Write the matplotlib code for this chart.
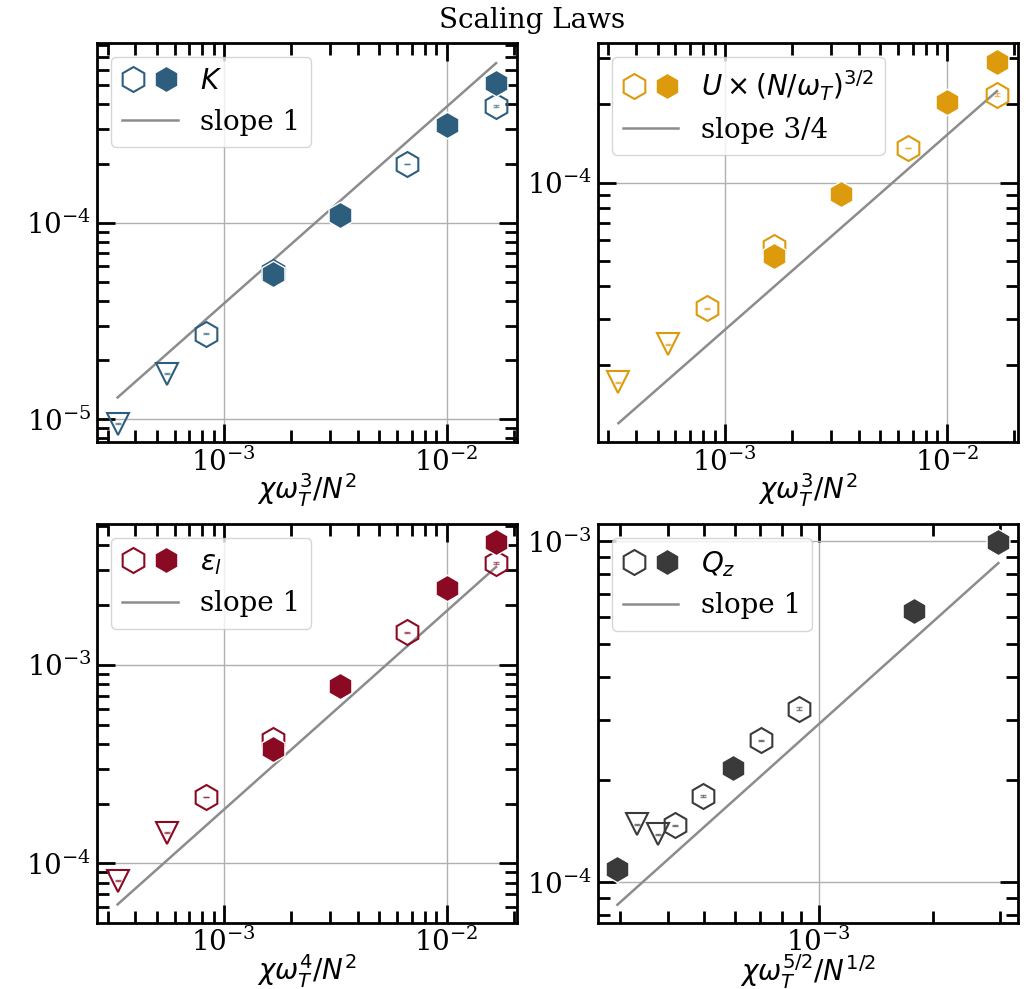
import numpy as np
import matplotlib
matplotlib.use("Agg")
import matplotlib.pyplot as plt
from matplotlib.legend_handler import HandlerTuple

plt.rcParams['font.family'] = 'DejaVu Serif'
plt.rcParams['mathtext.fontset'] = 'dejavusans'
plt.rcParams['font.size'] = 20

# x positions shared by the three top/left panels
x_tri = [3.33e-4, 5.56e-4]
x_open = [8.33e-4, 1.67e-3, 6.67e-3, 1.67e-2]
x_fill = [1.67e-3, 3.33e-3, 1.0e-2, 1.67e-2]

# kinetic energy
K_tri = [9.5e-6, 1.71e-5]
K_open = [2.73e-5, 5.6e-5, 1.99e-4, 3.92e-4]
K_fill = [5.46e-5, 1.10e-4, 3.14e-4, 5.11e-4]

# rescaled velocity
U_tri = [1.71e-5, 2.40e-5]
U_open = [3.30e-5, 5.67e-5, 1.36e-4, 2.18e-4]
U_fill = [5.22e-5, 9.07e-5, 2.05e-4, 2.91e-4]

# dissipation
eps_tri = [8.18e-5, 1.43e-4]
eps_open = [2.16e-4, 4.19e-4, 1.46e-3, 3.26e-3]
eps_fill = [3.76e-4, 7.84e-4, 2.44e-3, 4.14e-3]

# heat flux, different abscissa
q_x_tri = [3.33e-4, 3.77e-4]
q_x_open = [4.18e-4, 4.97e-4, 7.04e-4, 8.85e-4]
q_x_fill = [2.95e-4, 5.93e-4, 1.78e-3, 2.97e-3]
Q_tri = [1.48e-4, 1.38e-4]
Q_open = [1.47e-4, 1.79e-4, 2.61e-4, 3.23e-4]
Q_fill = [1.09e-4, 2.17e-4, 6.23e-4, 9.95e-4]

# relative error of the open points (triangles, then hexagons)
rel_err = [[0.004, 0.004], [0.004, 0.004, 0.004, 0.012]]

# power-law guide lines: prefactor, exponent, label
fits = [(0.0388, 1.0, 'slope 1'),
        (4.84e-3, 0.75, 'slope 3/4'),
        (0.1865, 1.0, 'slope 1'),
        (0.291, 1.0, 'slope 1')]

colors = ['#2e5e7d', '#dc9a0c', '#8b0a23', '#3a3a3a']
names = [r'$K$', r'$U\times(N/\omega_T)^{3/2}$', r'$\varepsilon_l$', r'$Q_z$']
xlabels = [r'$\chi\omega_T^3/N^2$', r'$\chi\omega_T^3/N^2$',
           r'$\chi\omega_T^4/N^2$', r'$\chi\omega_T^{5/2}/N^{1/2}$']
xlims = [(2.69e-4, 2.07e-2), (2.69e-4, 2.07e-2), (2.69e-4, 2.07e-2), (2.62e-4, 3.34e-3)]
ylims = [(7.67e-6, 8.2e-4), (1.01e-5, 3.44e-4), (5.02e-5, 5.14e-3), (7.6e-5, 1.127e-3)]

data = [
    (x_tri, K_tri, x_open, K_open, x_fill, K_fill),
    (x_tri, U_tri, x_open, U_open, x_fill, U_fill),
    (x_tri, eps_tri, x_open, eps_open, x_fill, eps_fill),
    (q_x_tri, Q_tri, q_x_open, Q_open, q_x_fill, Q_fill),
]

fig, axes = plt.subplots(2, 2, figsize=(10.35, 9.89), dpi=100)
fig.subplots_adjust(left=0.0937, right=0.9833, bottom=0.067, top=0.9565,
                    wspace=0.193, hspace=0.205)

for ax, d, c, name, xl, xlim, ylim, (A, p, slab) in zip(
        axes.flat, data, colors, names, xlabels, xlims, ylims, fits):
    xt, yt, xo, yo, xf, yf = d

    ax.errorbar(xt, yt, yerr=np.array(yt) * rel_err[0], fmt='none',
                ecolor=c, elinewidth=1, capsize=2, alpha=0.6, zorder=2)
    ax.errorbar(xo, yo, yerr=np.array(yo) * rel_err[1], fmt='none',
                ecolor=c, elinewidth=1, capsize=2, alpha=0.6, zorder=2)

    ax.plot(xt, yt, 'v', ms=16, mfc='none', mec=c, mew=1.5, zorder=3)
    h_open, = ax.plot(xo, yo, 'h', ms=18, mfc='none', mec=c, mew=1.5, zorder=3)
    h_fill, = ax.plot(xf, yf, 'h', ms=19, mfc=c, mec='white', mew=1, zorder=4)

    xs = np.array([min(xt + xo + xf), max(xt + xo + xf)])
    h_line, = ax.plot(xs, A * xs**p, color='#8c8c8c', lw=1.8, zorder=2)

    ax.set_xscale('log')
    ax.set_yscale('log')
    ax.set_xlim(*xlim)
    ax.set_ylim(*ylim)
    ax.set_xlabel(xl, labelpad=-4)
    ax.grid(True, which='major', color='#b0b0b0', lw=1)
    ax.set_axisbelow(True)

    ax.tick_params(which='both', direction='in', top=True, right=True,
                   width=2, labelsize=20, pad=4)
    ax.tick_params(which='major', length=13)
    ax.tick_params(which='minor', length=8.5)
    for s in ax.spines.values():
        s.set_linewidth(2)

    ax.legend([(h_open, h_fill), h_line], [name, slab], loc='upper left',
              handler_map={tuple: HandlerTuple(ndivide=None)}, fontsize=20,
              borderaxespad=0.5)

fig.suptitle('Scaling Laws', x=0.514, y=0.993, va='top', fontsize=20)
fig.savefig('out.png', dpi=100)
